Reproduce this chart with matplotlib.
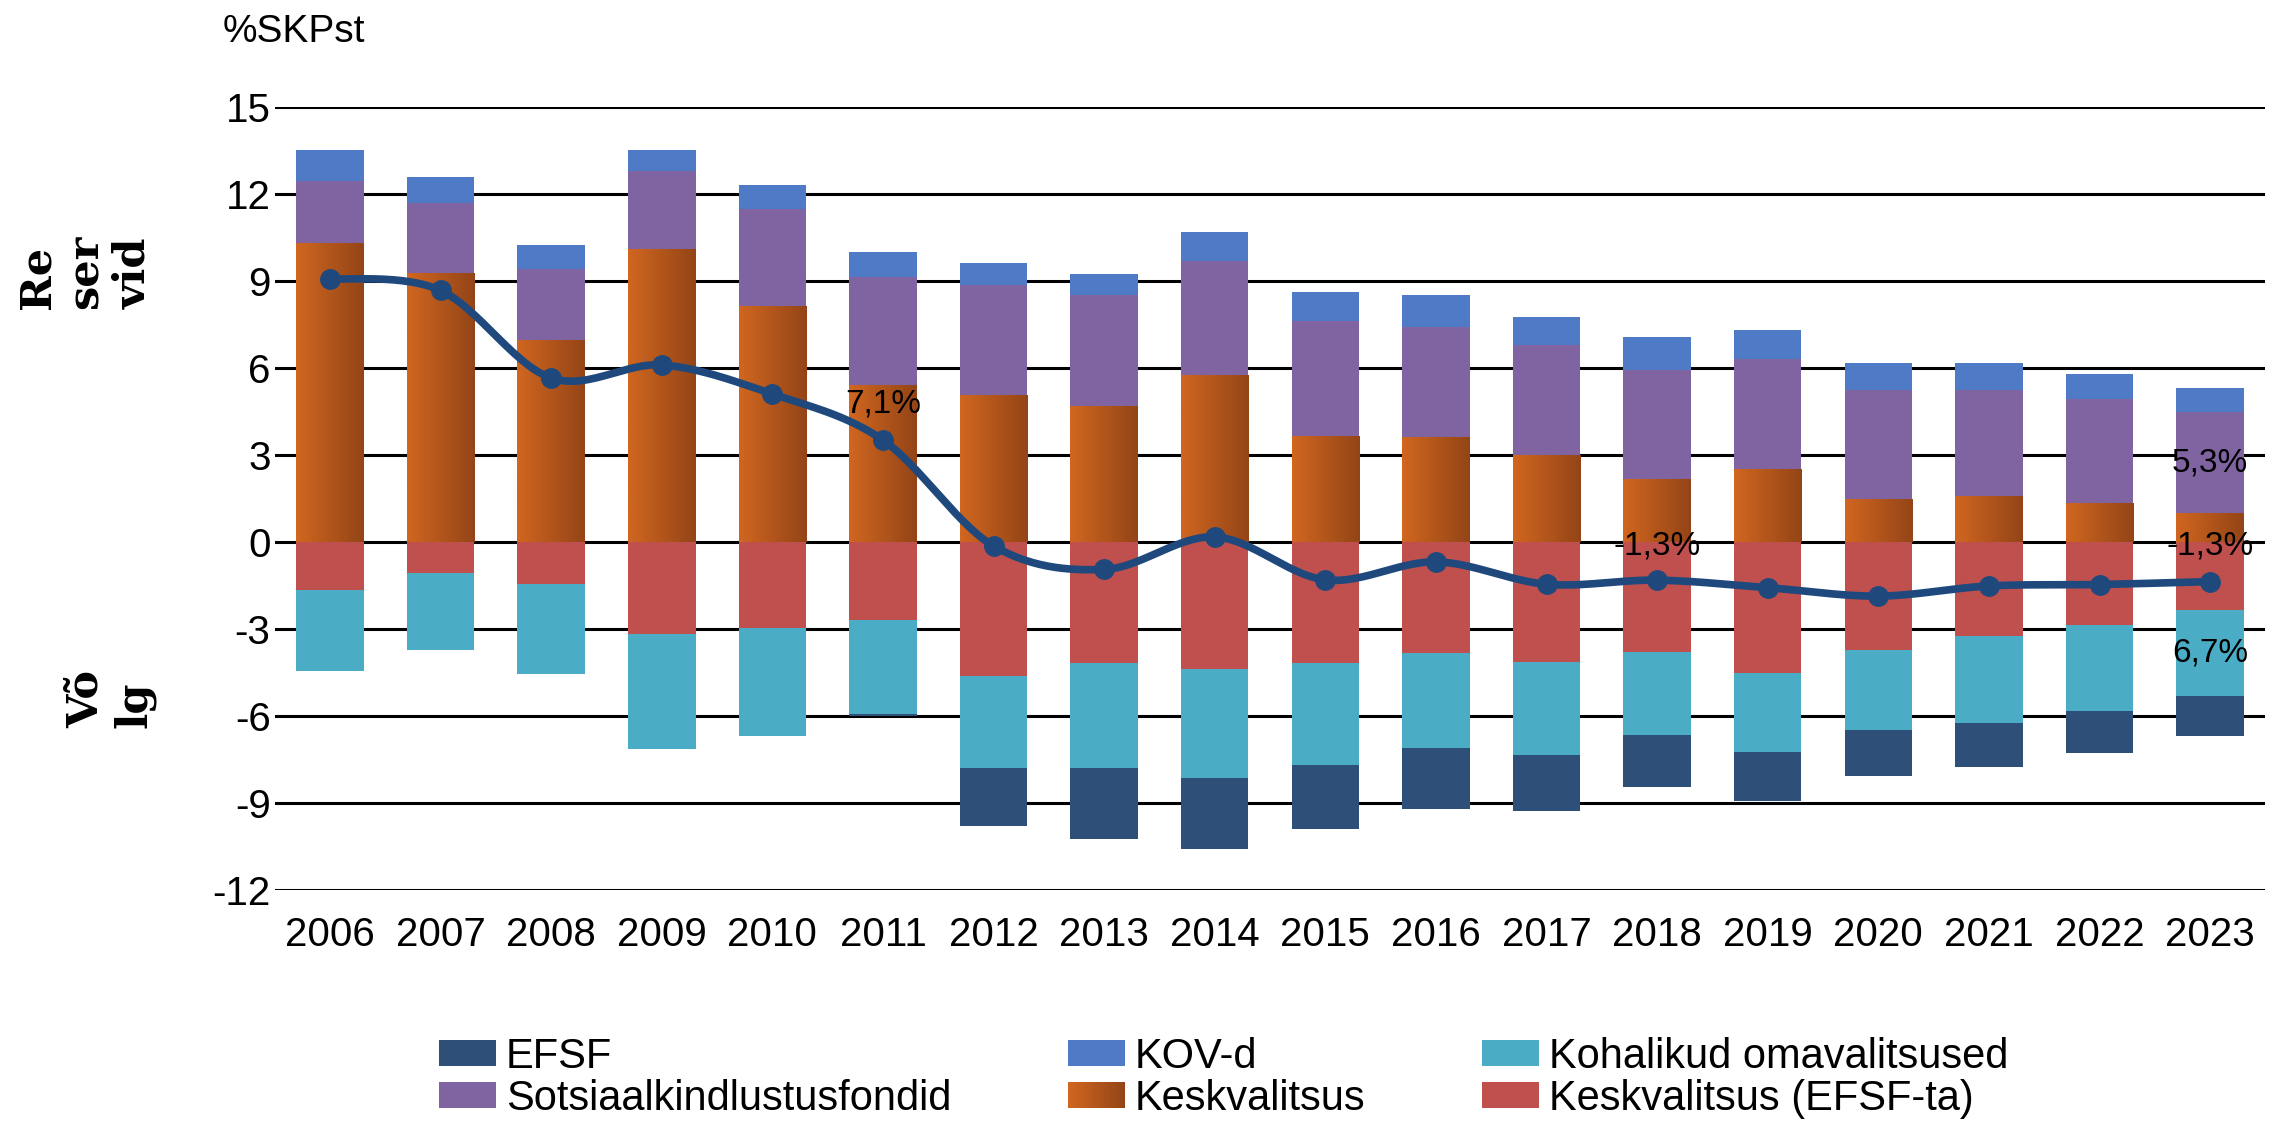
import numpy as np
import matplotlib
matplotlib.use("Agg")
import matplotlib.pyplot as plt
from matplotlib.colors import LinearSegmentedColormap
from matplotlib.patches import Rectangle, Patch
from matplotlib.legend_handler import HandlerBase

plt.rcParams["axes.unicode_minus"] = False

years = [str(y) for y in range(2006, 2024)]

# reserves (positive side), % of GDP
keskvalitsus = [10.31, 9.27, 6.96, 10.09, 8.12, 5.40, 5.06, 4.66, 5.75, 3.63,
                3.60, 2.98, 2.15, 2.49, 1.48, 1.58, 1.33, 0.98]
sotsiaal = [2.12, 2.41, 2.44, 2.71, 3.35, 3.75, 3.80, 3.87, 3.92, 3.97,
            3.82, 3.80, 3.79, 3.80, 3.74, 3.67, 3.60, 3.51]
kov = [1.07, 0.89, 0.82, 0.70, 0.83, 0.85, 0.74, 0.69, 1.00, 1.00,
       1.08, 0.99, 1.11, 1.00, 0.96, 0.93, 0.87, 0.81]

# debt (negative side)
kesk_efsf_ta = [-1.66, -1.07, -1.45, -3.18, -2.97, -2.69, -4.63, -4.18, -4.39, -4.18,
                -3.83, -4.14, -3.80, -4.52, -3.73, -3.25, -2.87, -2.35]
kohalikud = [-2.80, -2.66, -3.10, -3.96, -3.73, -3.25, -3.18, -3.63, -3.76, -3.52,
             -3.29, -3.22, -2.87, -2.73, -2.76, -3.00, -2.97, -2.97]
efsf = [0.0, 0.0, 0.0, 0.0, 0.0, -0.08, -2.00, -2.45, -2.45, -2.21,
        -2.10, -1.93, -1.78, -1.70, -1.58, -1.51, -1.44, -1.38]

# net position line
netto = [9.08, 8.67, 5.65, 6.10, 5.10, 3.51, -0.14, -0.95, 0.17, -1.31,
         -0.69, -1.46, -1.32, -1.58, -1.87, -1.52, -1.47, -1.37]

# data labels: (year index, y, text)
sildid = [(5, 4.75, "7,1%"), (12, -0.15, "-1,3%"), (17, -0.15, "-1,3%"),
          (17, 2.71, "5,3%"), (17, -3.82, "6,7%")]

c_efsf = "#2E4F78"
c_kov = "#4F7AC6"
c_kohalik = "#4BACC6"
c_sots = "#8064A2"
c_kesk_ta = "#C0504D"
c_line = "#1F497D"
grad_l, grad_r = "#D06620", "#944517"
grad_cmap = LinearSegmentedColormap.from_list("kesk", [grad_l, grad_r])

sans = ["Liberation Sans", "DejaVu Sans"]
narrow = ["Liberation Sans Narrow", "Liberation Sans", "DejaVu Sans"]


def smooth(xs, ys, n=30):
    # Catmull-Rom curve through the points (like Excel "smoothed line")
    p = np.column_stack([xs, ys]).astype(float)
    p = np.vstack([p[0], p, p[-1]])
    t = np.linspace(0, 1, n)[:, None]
    out = []
    for i in range(1, len(p) - 2):
        p0, p1, p2, p3 = p[i - 1], p[i], p[i + 1], p[i + 2]
        seg = 0.5 * ((2 * p1) + (-p0 + p2) * t + (2 * p0 - 5 * p1 + 4 * p2 - p3) * t ** 2
                     + (-p0 + 3 * p1 - 3 * p2 + p3) * t ** 3)
        out.append(seg if i == 1 else seg[1:])
    out = np.vstack(out)
    return out[:, 0], out[:, 1]


class HandlerGradient(HandlerBase):
    def create_artists(self, legend, orig_handle, xdescent, ydescent, width, height, fontsize, trans):
        n = 30
        arts = []
        for k in range(n):
            arts.append(Rectangle((-xdescent + width * k / n, -ydescent), width / n * 1.05, height,
                                  facecolor=grad_cmap(k / (n - 1)), edgecolor="none", transform=trans))
        return arts


fig = plt.figure(figsize=(22.7, 11.25), dpi=100)
ax = fig.add_axes([0.121, 0.209, 0.877, 0.696])
x = np.arange(len(years))
w = 0.61

pos_b = np.zeros(len(years))
bars_kesk = ax.bar(x, keskvalitsus, w, bottom=pos_b, color="none", zorder=2)
pos_b += keskvalitsus
ax.bar(x, sotsiaal, w, bottom=pos_b, color=c_sots, zorder=2)
pos_b += sotsiaal
ax.bar(x, kov, w, bottom=pos_b, color=c_kov, zorder=2)

neg_b = np.zeros(len(years))
ax.bar(x, kesk_efsf_ta, w, bottom=neg_b, color=c_kesk_ta, zorder=2)
neg_b += kesk_efsf_ta
ax.bar(x, kohalikud, w, bottom=neg_b, color=c_kohalik, zorder=2)
neg_b += kohalikud
ax.bar(x, efsf, w, bottom=neg_b, color=c_efsf, zorder=2)

# gradient fill for Keskvalitsus
grad = np.linspace(0, 1, 64).reshape(1, -1)
for r in bars_kesk:
    x0, y0, bw, bh = r.get_x(), r.get_y(), r.get_width(), r.get_height()
    ax.imshow(grad, cmap=grad_cmap, aspect="auto", extent=(x0, x0 + bw, y0, y0 + bh),
              zorder=2.1, interpolation="bilinear")

sx, sy = smooth(x, netto)
ax.plot(sx, sy, color=c_line, lw=5.5, zorder=4, solid_capstyle="round")
ax.plot(x, netto, "o", color=c_line, ms=14, zorder=5)

for i, yv, txt in sildid:
    ax.text(x[i], yv, txt, ha="center", va="center", fontsize=24, family=narrow, zorder=6)

ax.set_xlim(-0.5, len(years) - 0.5)
ax.set_ylim(-12, 15)
ax.set_yticks(np.arange(-12, 16, 3))
ax.set_xticks(x)
ax.set_xticklabels(years)
ax.yaxis.grid(True, color="black", lw=2.2)
ax.set_axisbelow(True)
for s in ax.spines.values():
    s.set_visible(False)
ax.tick_params(axis="both", length=0, labelsize=29)
ax.tick_params(axis="x", pad=19)
ax.tick_params(axis="y", pad=3)
for lab in ax.get_xticklabels() + ax.get_yticklabels():
    lab.set_family(sans)

fig.text(0.098, 0.972, "%SKPst", fontsize=28, family=sans, va="center", ha="left")
fig.text(0.0375, 0.725, "Re\nser\nvid", rotation=90, fontsize=31, fontweight="bold",
         family="DejaVu Serif", ha="center", va="bottom", multialignment="left", linespacing=1.18)
fig.text(0.0485, 0.353, "Võ\nlg", rotation=90, fontsize=31, fontweight="bold",
         family="DejaVu Serif", ha="center", va="bottom", multialignment="left", linespacing=1.18)

kesk_handle = Patch(facecolor=grad_l)
handles = [Patch(facecolor=c_efsf), Patch(facecolor=c_sots),
           Patch(facecolor=c_kov), kesk_handle,
           Patch(facecolor=c_kohalik), Patch(facecolor=c_kesk_ta)]
labels = ["EFSF", "Sotsiaalkindlustusfondid", "KOV-d", "Keskvalitsus",
          "Kohalikud omavalitsused", "Keskvalitsus (EFSF-ta)"]
fig.legend(handles, labels, loc="center", bbox_to_anchor=(0.539, 0.042), ncol=3,
           frameon=False, prop={"family": sans, "size": 30}, handlelength=1.37, handleheight=0.58,
           handletextpad=0.24, columnspacing=2.8, labelspacing=0.05,
           handler_map={kesk_handle: HandlerGradient()})

fig.savefig("out.png", dpi=100)
